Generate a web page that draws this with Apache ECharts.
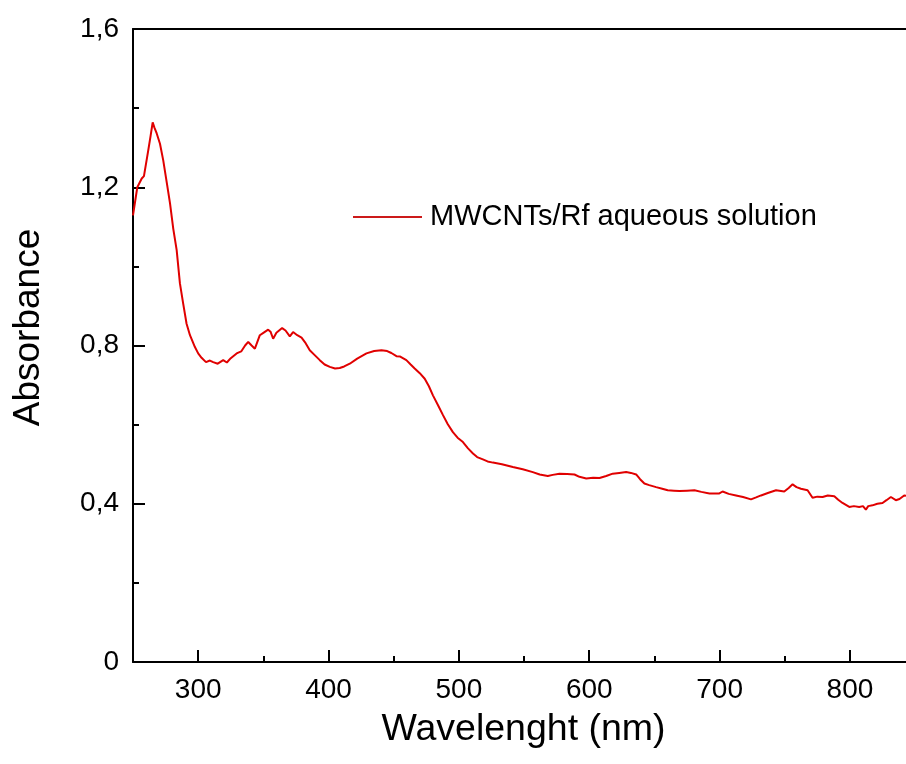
<!DOCTYPE html>
<html>
<head>
<meta charset="utf-8">
<script src="https://cdn.jsdelivr.net/npm/echarts@6/dist/echarts.min.js"></script>
<style>
  html, body { margin: 0; padding: 0; background: #fff; }
  #chart { width: 906px; height: 764px; }
</style>
</head>
<body>
<div id="chart"></div>
<script>
// values
const wavelength = [
  250, 253.3, 256.7, 258.4, 261.7, 263.5, 265.1, 266.5, 268.2, 270.7, 273.2, 276, 278.4, 280.9, 283.5,
  286, 288.5, 291.1, 293.7, 297.5, 300, 302.6, 306, 309, 311.5, 315, 319.2, 322, 325, 329.5,
  333, 336, 338.4, 341, 343.5, 347.3, 350, 353.7, 355.5, 357.5, 360, 364.4, 367, 370.3, 372.8,
  376, 379.3, 382, 385.6, 389, 393.3, 397, 401, 405, 408.6, 412, 416.3, 422, 429.1, 435,
  440.6, 445, 448.2, 452.1, 455, 459.7, 463, 466.1, 470, 473.8, 477, 480.1, 484, 487.8, 491.5,
  495.4, 499, 503.1, 507, 510.8, 514, 518.4, 522, 526.1, 533, 541.4, 549, 556.7, 562, 568.2,
  572, 577.2, 583, 588.7, 592.5, 597.7, 603, 607.9, 613, 618, 623, 628.3, 632, 636, 639,
  642.3, 646, 651.3, 656, 660.2, 665, 669.2, 675, 680.7, 686, 692.2, 699.8, 702.3, 707, 712.6,
  718, 724.1, 728, 731.8, 737, 743.3, 749.6, 753, 756, 759, 762.4, 767.5, 771.3, 775, 779,
  783, 788, 791, 794.3, 799.5, 803, 807.1, 810, 812.2, 814, 817.3, 821, 825, 828, 831.4,
  835.2, 838, 841.6, 843
];
const absorbance = [
  1.129, 1.20, 1.222, 1.228, 1.293, 1.33, 1.364, 1.35, 1.336, 1.31, 1.268, 1.21, 1.159, 1.095, 1.041,
  0.957, 0.906, 0.855, 0.826, 0.796, 0.78, 0.769, 0.758, 0.762, 0.758, 0.754, 0.763, 0.757, 0.768, 0.78,
  0.785, 0.80, 0.809, 0.800, 0.792, 0.826, 0.832, 0.840, 0.835, 0.817, 0.832, 0.844, 0.838, 0.823, 0.834,
  0.826, 0.82, 0.808, 0.788, 0.777, 0.763, 0.752, 0.746, 0.742, 0.743, 0.747, 0.754, 0.767, 0.78, 0.786,
  0.788, 0.786, 0.781, 0.773, 0.772, 0.763, 0.752, 0.742, 0.73, 0.716, 0.697, 0.674, 0.649, 0.624, 0.601,
  0.581, 0.567, 0.556, 0.54, 0.527, 0.518, 0.512, 0.507, 0.504, 0.5, 0.493, 0.487, 0.480, 0.474, 0.470,
  0.473, 0.476, 0.475, 0.474, 0.468, 0.464, 0.466, 0.465, 0.47, 0.476, 0.478, 0.480, 0.478, 0.474, 0.462,
  0.451, 0.447, 0.442, 0.438, 0.434, 0.433, 0.432, 0.433, 0.434, 0.43, 0.426, 0.426, 0.431, 0.425, 0.421,
  0.417, 0.411, 0.416, 0.421, 0.427, 0.434, 0.431, 0.44, 0.449, 0.442, 0.438, 0.434, 0.415, 0.418, 0.417,
  0.421, 0.419, 0.41, 0.402, 0.392, 0.394, 0.392, 0.394, 0.385, 0.394, 0.396, 0.4, 0.402, 0.409, 0.417,
  0.409, 0.412, 0.421, 0.42
];
const majorTicksX = [300, 400, 500, 600, 700, 800];
const minorTicksX = [350, 450, 550, 650, 750];
const seriesName = "MWCNTs/Rf aqueous solution";

const FONT = "Liberation Sans, Arial, sans-serif";
const gridPos = { left: 133, right: 0, top: 29, bottom: 102 };
const black2 = { color: "#000", width: 2 };

const chart = echarts.init(document.getElementById("chart"));
chart.setOption({
  animation: false,
  backgroundColor: "#fff",
  grid: [
    { ...gridPos, containLabel: false },
    { ...gridPos, containLabel: false },
  ],
  legend: {
    data: [seriesName],
    left: 348,
    top: 197,
    icon: "rect",
    itemWidth: 69,
    itemHeight: 2,
    textStyle: { fontFamily: FONT, fontSize: 29, color: "#000", lineHeight: 30, padding: [0, 0, 0, 3] },
  },
  xAxis: [
    {
      type: "value",
      gridIndex: 0,
      min: 250,
      max: 843,
      position: "bottom",
      name: "Wavelenght (nm)",
      nameLocation: "middle",
      nameGap: 49,
      nameTextStyle: { fontFamily: FONT, fontSize: 37.5, color: "#000", padding: [0, 0, 0, 8] },
      axisLine: { lineStyle: black2 },
      axisTick: { inside: true, length: 12, lineStyle: black2, customValues: majorTicksX },
      axisLabel: { fontFamily: FONT, fontSize: 28, color: "#000", margin: 14, customValues: majorTicksX },
      splitLine: { show: false },
    },
    {
      type: "value",
      gridIndex: 0,
      min: 250,
      max: 843,
      position: "top",
      axisLine: { lineStyle: black2 },
      axisTick: { show: false },
      axisLabel: { show: false },
      splitLine: { show: false },
    },
    {
      type: "value",
      gridIndex: 1,
      min: 250,
      max: 843,
      position: "bottom",
      axisLine: { show: false },
      axisTick: { inside: true, length: 6, lineStyle: black2, customValues: minorTicksX },
      axisLabel: { show: false },
      splitLine: { show: false },
    },
  ],
  yAxis: [
    {
      type: "value",
      gridIndex: 0,
      min: 0,
      max: 1.6,
      interval: 0.4,
      name: "Absorbance",
      nameLocation: "middle",
      nameGap: 86,
      nameTextStyle: { fontFamily: FONT, fontSize: 37, color: "#000", padding: [0, 0, 0, 36] },
      axisLine: { show: true, lineStyle: black2 },
      axisTick: { show: true, inside: true, length: 12, lineStyle: black2 },
      minorTick: { show: true, splitNumber: 2, length: 6, lineStyle: black2 },
      axisLabel: {
        fontFamily: FONT, fontSize: 28, color: "#000", margin: 14,
        formatter: (v) => (v === 0 ? "0" : v.toFixed(1).replace(".", ",")),
      },
      splitLine: { show: false },
    },
    {
      type: "value",
      gridIndex: 1,
      min: 0,
      max: 1.6,
      show: false,
    },
  ],
  series: [
    {
      name: seriesName,
      type: "line",
      xAxisIndex: 0,
      yAxisIndex: 0,
      data: wavelength.map((w, i) => [w, absorbance[i]]),
      showSymbol: false,
      symbol: "none",
      smooth: false,
      lineStyle: { color: "#e00000", width: 2 },
      itemStyle: { color: "#cc1a1a" },
    },
  ],
});
</script>
</body>
</html>
